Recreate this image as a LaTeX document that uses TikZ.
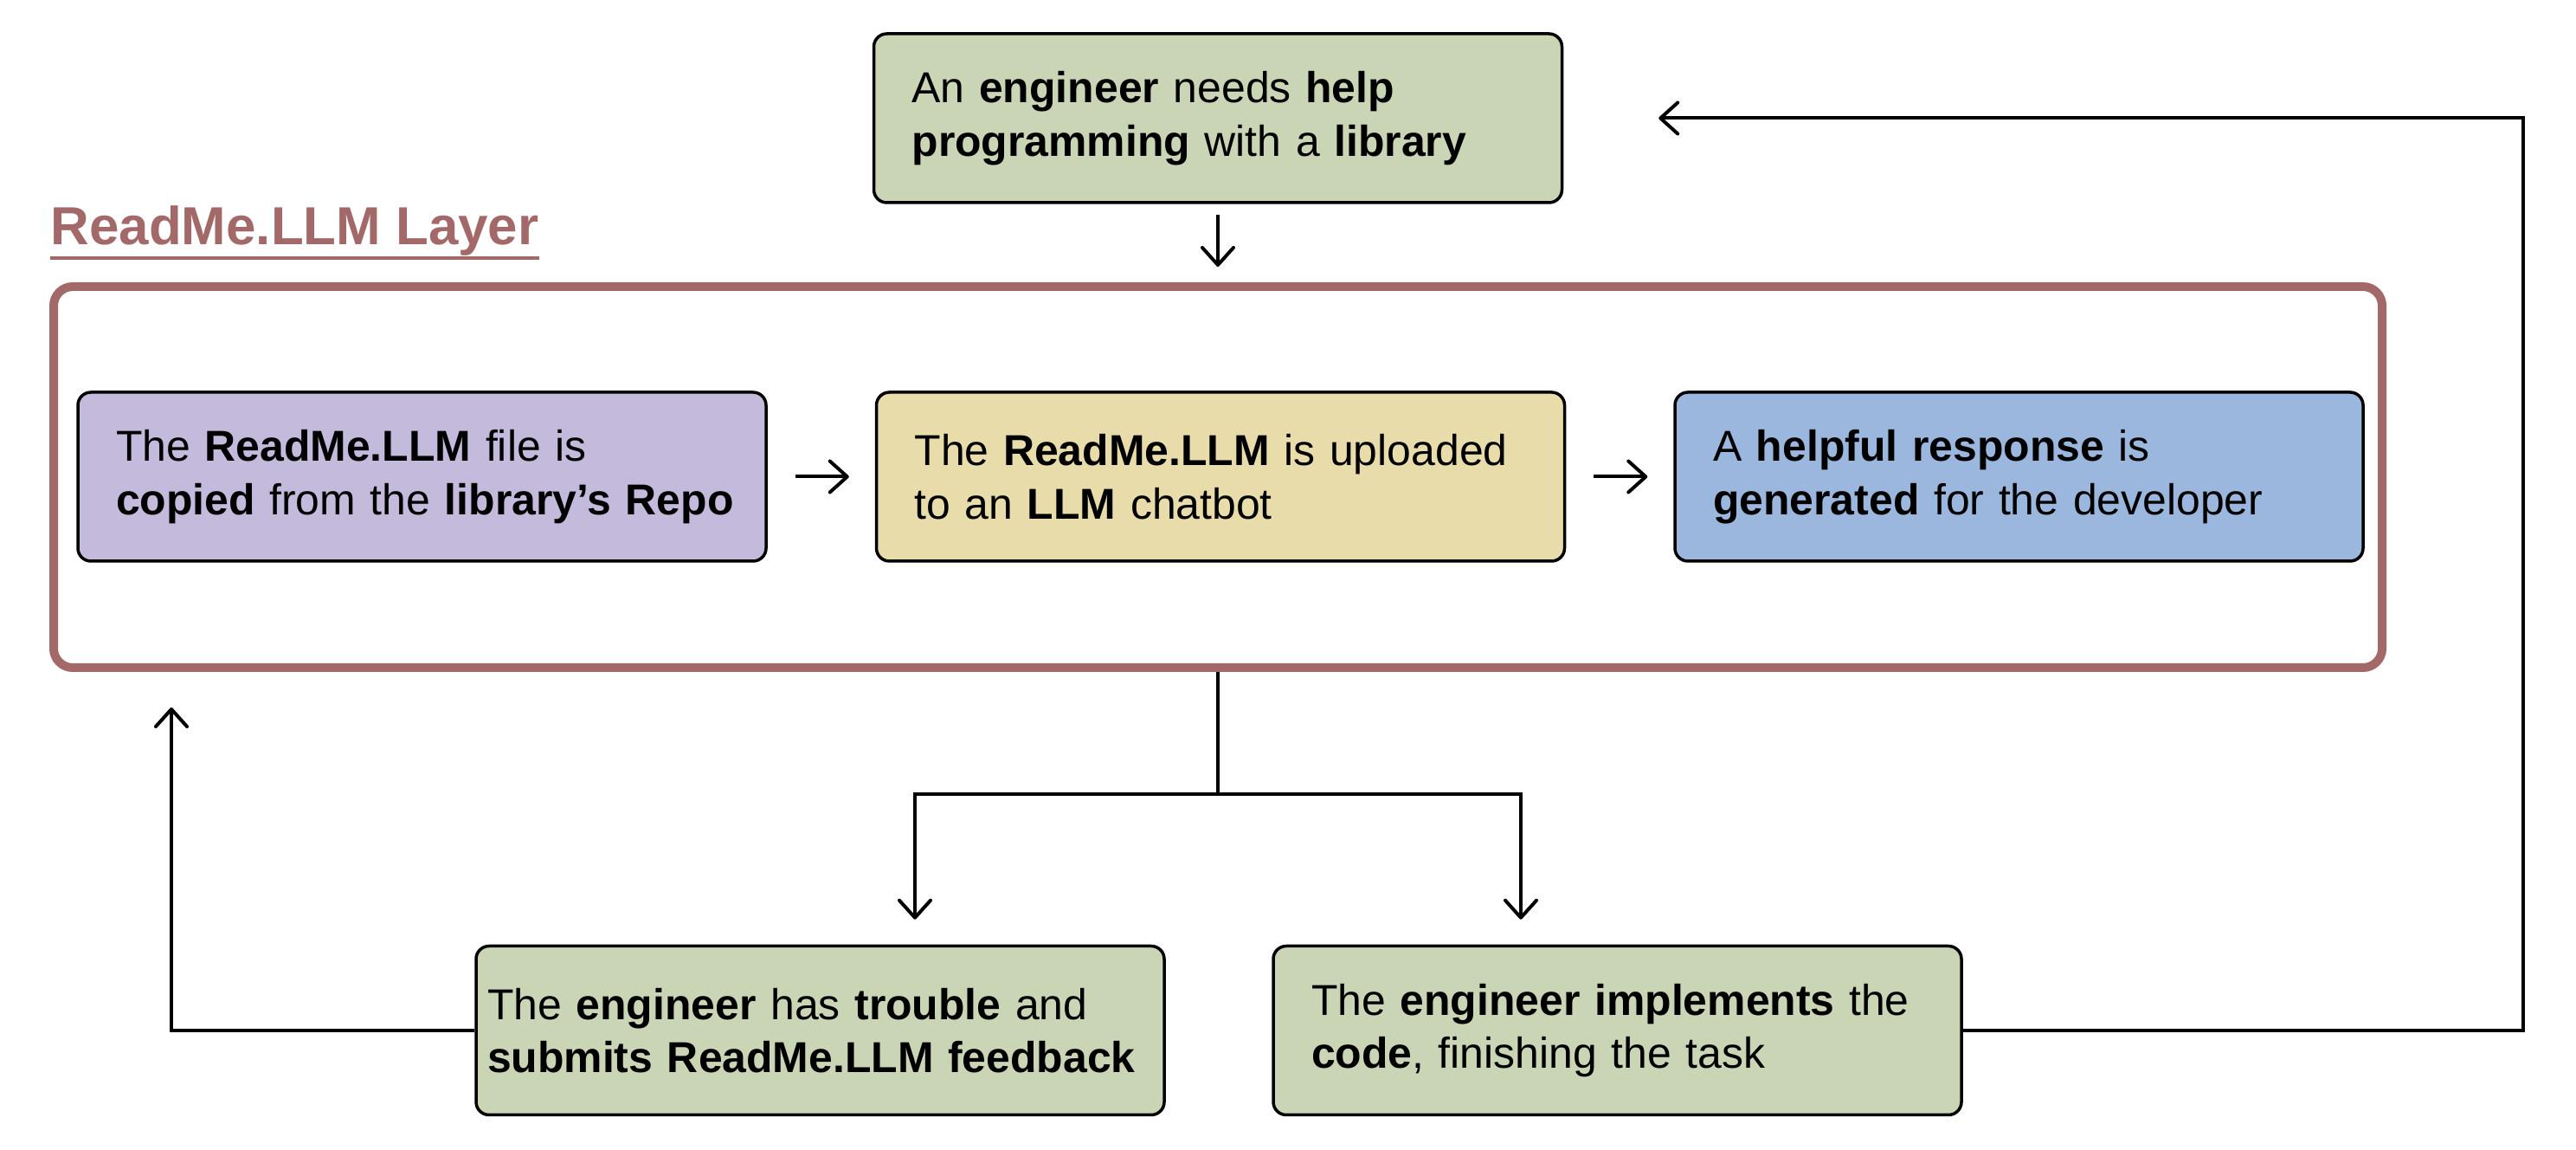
\documentclass[tikz,border=0pt]{standalone}
\usepackage{fontspec}
\setmainfont{Liberation Sans}
\usetikzlibrary{arrows.meta,positioning}

\definecolor{layerred}{RGB}{163,105,105}
\definecolor{boxgreen}{RGB}{201,213,181}
\definecolor{boxpurple}{RGB}{195,186,220}
\definecolor{boxyellow}{RGB}{232,221,170}
\definecolor{boxblue}{RGB}{155,183,222}

\tikzset{
	flowbox/.style={draw, line width=0.35mm, rounded corners=0.15cm, minimum height=1.95cm,
		text width=7.07cm, inner xsep=0.44cm, align=left, font=\fontsize{14.2}{17.5}\selectfont},
	layerbox/.style={draw=layerred, line width=1mm, rounded corners=0.22cm,
		minimum width=26.9cm, minimum height=4.4cm},
	conn/.style={line width=0.4mm, -{Straight Barb[length=2mm,width=3.6mm,round]}},
	plainline/.style={line width=0.4mm}
}

\begin{document}
\begin{tikzpicture}
	
	\useasboundingbox (0,0) rectangle (29.76,13.28);
	
	% entry point
	\node[flowbox, fill=boxgreen] (need) at (14.07,11.915) {An \textbf{engineer} needs \textbf{help}\\\textbf{programming} with a \textbf{library}};
	
	% the layer
	\node[layerbox] (layer) at (14.07,7.77) {};
	\node[anchor=base west, inner sep=0, text=layerred, font=\fontsize{17.6}{20}\selectfont\bfseries] (title) at (0.58,10.45) {ReadMe.LLM Layer};
	\draw[layerred, line width=0.4mm] ([yshift=-1.5mm]title.base west) -- ([yshift=-1.5mm]title.base east);
	
	\node[flowbox, fill=boxpurple] (copy) at (4.875,7.775) {The \textbf{ReadMe.LLM} file is\\\mbox{\textbf{copied} from the \textbf{library’s Repo}}};
	\node[flowbox, fill=boxyellow, right=1.24cm of copy] (upload) {The \textbf{ReadMe.LLM} is uploaded\\to an \textbf{LLM} chatbot};
	\node[flowbox, fill=boxblue, right=1.24cm of upload] (response) {A \textbf{helpful response} is\\\textbf{generated} for the developer};
	
	% outcomes
	\node[flowbox, fill=boxgreen, text width=7.69cm, inner xsep=0.13cm] (trouble) at (9.475,1.38) {The \textbf{engineer} has \textbf{trouble} and\\\textbf{submits ReadMe.LLM feedback}};
	\node[flowbox, fill=boxgreen] (done) at (18.685,1.38) {The \textbf{engineer implements} the\\\textbf{code}, finishing the task};
	
	% connectors
	\coordinate (split) at (14.07,4.11);
	\coordinate (backup) at (1.98,5.11);
	\coordinate (loopcorner) at (29.15,11.915);
	
	\draw[conn] ([yshift=-0.12cm]need.south) -- ([yshift=0.18cm]layer.north);
	\draw[conn] ([xshift=0.32cm]copy.east) -- ([xshift=-0.3cm]upload.west);
	\draw[conn] ([xshift=0.32cm]upload.east) -- ([xshift=-0.3cm]response.west);
	
	\draw[plainline] (layer.south) -- (split);
	\draw[conn] (split) -| ([xshift=1.095cm,yshift=0.29cm]trouble.north);
	\draw[conn] (split) -| ([xshift=-1.115cm,yshift=0.29cm]done.north);
	
	\draw[conn] (trouble.west) -| (backup);
	\draw[conn] (done.east) -| (loopcorner) -- ([xshift=1.1cm]need.east);
	
\end{tikzpicture}
\end{document}
